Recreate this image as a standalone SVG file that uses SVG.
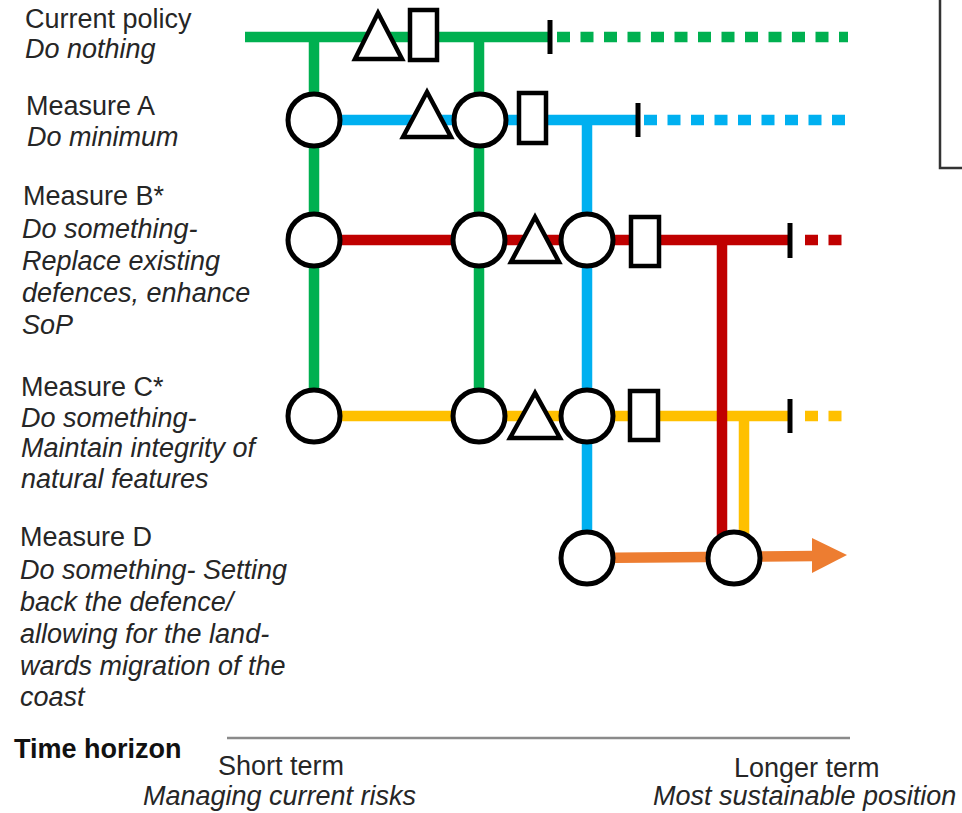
<svg xmlns="http://www.w3.org/2000/svg" width="962" height="813" viewBox="0 0 962 813">
<style>
text{font-family:"Liberation Sans",Arial,sans-serif;font-size:27px;fill:#262626}
.it{font-style:italic}
.b{font-weight:bold;font-size:27px;fill:#111}
.ln{fill:none;stroke-width:10.5}
.g{stroke:#00B050}.bl{stroke:#00B0F0}.r{stroke:#C00000}.y{stroke:#FFC000}.o{stroke:#ED7D31}
.dot{stroke-dasharray:13 10.5}
.tick{stroke:#000;stroke-width:5}
.c{fill:#fff;stroke:#000;stroke-width:5}
.sym{fill:#fff;stroke:#000;stroke-width:4.5}
</style>
<rect width="962" height="813" fill="#fff"/>
<path d="M940 0V168H962" fill="none" stroke="#333" stroke-width="2.5"/>

<g id="labels">
<text x="25" y="28">Current policy</text>
<text x="25" y="58" class="it">Do nothing</text>
<text x="26" y="115">Measure A</text>
<text x="27" y="146" class="it">Do minimum</text>
<text x="23" y="205">Measure B*</text>
<text x="22" y="238" class="it">Do something-</text>
<text x="22" y="270" class="it">Replace existing</text>
<text x="22" y="302" class="it">defences, enhance</text>
<text x="22" y="334" class="it">SoP</text>
<text x="21" y="396">Measure C*</text>
<text x="21" y="427" class="it">Do something-</text>
<text x="21" y="457" class="it">Maintain integrity of</text>
<text x="21" y="488" class="it">natural features</text>
<text x="20" y="546">Measure D</text>
<text x="20" y="579" class="it">Do something- Setting</text>
<text x="20" y="611" class="it">back the defence/</text>
<text x="20" y="643" class="it">allowing for the land-</text>
<text x="20" y="675" class="it">wards migration of the</text>
<text x="20" y="706" class="it">coast</text>
</g>

<g id="connectors">
<line class="ln g" x1="245" y1="37" x2="550" y2="37"/>
<line class="ln g dot" x1="557" y1="37" x2="848" y2="37"/>
<line class="ln g" x1="314" y1="37" x2="314" y2="416"/>
<line class="ln g" x1="479" y1="37" x2="479" y2="416"/>
<line class="ln bl" x1="314" y1="120" x2="638" y2="120"/>
<line class="ln bl dot" x1="644" y1="120" x2="848" y2="120"/>
<line class="ln bl" x1="587" y1="120" x2="587" y2="558"/>
<line class="ln r" x1="314" y1="240" x2="790" y2="240"/>
<line class="ln r dot" x1="805" y1="240" x2="842" y2="240"/>
<line class="ln y" x1="314" y1="416" x2="790" y2="416"/>
<line class="ln y dot" x1="805" y1="416" x2="842" y2="416"/>
<line class="ln y" x1="744" y1="416" x2="744" y2="558"/>
<line class="ln r" x1="722" y1="240" x2="722" y2="558"/>
<line class="ln o" x1="587" y1="558" x2="815" y2="556"/>
<polygon points="812,538 847,555 812,573" fill="#ED7D31"/>
<line class="tick" x1="550" y1="20" x2="550" y2="54"/>
<line class="tick" x1="638" y1="103" x2="638" y2="137"/>
<line class="tick" x1="790" y1="223" x2="790" y2="258"/>
<line class="tick" x1="790" y1="399" x2="790" y2="433"/>
</g>

<g id="current-policy">
<polygon class="sym" points="378,13 355,59 402,59"/>
<rect class="sym" x="410" y="10" width="27" height="50"/>
</g>
<g id="measure-a">
<circle class="c" cx="314" cy="120" r="26"/>
<polygon class="sym" points="427,92 403,137 451,137"/>
<circle class="c" cx="480" cy="120" r="26"/>
<rect class="sym" x="519" y="93" width="27" height="50"/>
</g>
<g id="measure-b">
<circle class="c" cx="314" cy="240" r="26"/>
<circle class="c" cx="479" cy="240" r="26"/>
<polygon class="sym" points="535,217 511,262 559,262"/>
<circle class="c" cx="587" cy="240" r="26"/>
<rect class="sym" x="631" y="217" width="28" height="49"/>
</g>
<g id="measure-c">
<circle class="c" cx="314" cy="416" r="26"/>
<circle class="c" cx="479" cy="416" r="26"/>
<polygon class="sym" points="535,393 510,438 560,438"/>
<circle class="c" cx="587" cy="416" r="26"/>
<rect class="sym" x="630" y="391" width="28" height="49"/>
</g>
<g id="measure-d">
<circle class="c" cx="587" cy="558" r="26"/>
<circle class="c" cx="734" cy="558" r="26"/>
</g>

<g id="time-horizon">
<line x1="227" y1="738" x2="850" y2="738" stroke="#8a8a8a" stroke-width="2.5"/>
<text x="14" y="758" class="b">Time horizon</text>
<text x="218" y="775">Short term</text>
<text x="143" y="805" class="it">Managing current risks</text>
<text x="734" y="777">Longer term</text>
<text x="653" y="805" class="it">Most sustainable position</text>
</g>
</svg>
